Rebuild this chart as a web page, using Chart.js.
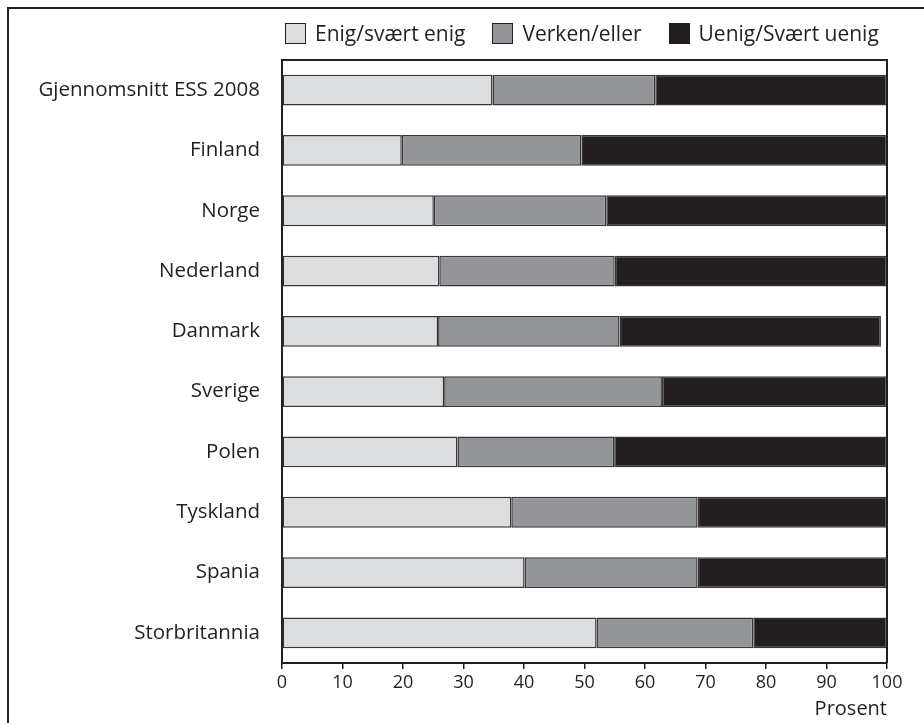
<!DOCTYPE html>
<html lang="no">
<head>
  <meta charset="UTF-8">
  <title>Enig/uenig - ESS 2008</title>
  <script src="https://cdn.jsdelivr.net/npm/chart.js@4.4.1/dist/chart.umd.min.js"></script>
  <style>
    html, body {
      margin: 0;
      padding: 0;
      background: #fff;
    }
    body {
      width: 924px;
      height: 723px;
      position: relative;
      overflow: hidden;
      font-family: "Open Sans", sans-serif;
      color: #231f20;
    }
    .frame {
      position: absolute;
      left: 7px;
      top: 7px;
      right: -5px;
      bottom: -5px;
      border-left: 2px solid #231f20;
      border-top: 2px solid #231f20;
    }
    .wrap {
      position: absolute;
      left: 0;
      top: 0;
      width: 924px;
      height: 723px;
    }
    #legend {
      position: absolute;
      left: 285px;
      top: 23px;
      display: flex;
      align-items: center;
      font-size: 21px;
      line-height: 21px;
      white-space: nowrap;
    }
    .item {
      display: flex;
      align-items: center;
      margin-right: 27px;
    }
    .box {
      width: 19px;
      height: 19px;
      border: 1px solid #231f20;
      margin-right: 9px;
    }
  </style>
</head>
<body>
  <div class="frame"></div>
  <div class="wrap"><canvas id="chart"></canvas></div>
  <div id="legend"></div>

  <script>
    const categories = ['Gjennomsnitt ESS 2008', 'Finland', 'Norge', 'Nederland', 'Danmark',
                        'Sverige', 'Polen', 'Tyskland', 'Spania', 'Storbritannia'];
    const seriesNames = ['Enig/svært enig', 'Verken/eller', 'Uenig/Svært uenig'];
    const enig   = [34.8, 19.8, 25.1, 26.0, 25.8, 26.8, 29.0, 37.9, 40.1, 52.0];
    const verken = [26.9, 29.7, 28.5, 29.0, 30.0, 36.0, 25.9, 30.8, 28.6, 25.9];
    const uenig  = [38.3, 50.5, 46.4, 45.0, 43.2, 37.2, 45.1, 31.3, 31.3, 22.1];
    const xTicks = [0, 10, 20, 30, 40, 50, 60, 70, 80, 90, 100];

    const ink = '#231f20';
    const fills = ['#dcdddf', '#939598', '#231f20'];

    // ramme rundt plottet (topp og høyre)
    const plotBox = {
      id: 'plotBox',
      afterDatasetsDraw(chart) {
        const { ctx, chartArea: a } = chart;
        ctx.save();
        ctx.strokeStyle = ink;
        ctx.lineWidth = 2;
        ctx.beginPath();
        ctx.moveTo(a.left, a.top);
        ctx.lineTo(a.right, a.top);
        ctx.lineTo(a.right, a.bottom);
        ctx.stroke();
        ctx.restore();
      }
    };

    // HTML-legende bygget fra datasettene
    const htmlLegend = {
      id: 'htmlLegend',
      afterUpdate(chart) {
        const el = document.getElementById('legend');
        el.innerHTML = '';
        chart.options.plugins.legend.labels.generateLabels(chart).forEach(item => {
          const div = document.createElement('div');
          div.className = 'item';
          const box = document.createElement('span');
          box.className = 'box';
          box.style.background = item.fillStyle;
          const txt = document.createElement('span');
          txt.textContent = item.text;
          div.appendChild(box);
          div.appendChild(txt);
          el.appendChild(div);
        });
      }
    };

    const values = [enig, verken, uenig];
    const datasets = seriesNames.map((name, i) => ({
      label: name,
      data: values[i],
      backgroundColor: fills[i],
      borderColor: '#3a3637',
      borderWidth: 1.5,
      borderSkipped: false,
      barPercentage: 0.51,
      categoryPercentage: 1
    }));

    new Chart(document.getElementById('chart'), {
      type: 'bar',
      data: { labels: categories, datasets: datasets },
      options: {
        indexAxis: 'y',
        responsive: true,
        maintainAspectRatio: false,
        animation: false,
        layout: { padding: { top: 60, right: 37, left: 0, bottom: 0 } },
        plugins: {
          legend: { display: false },
          tooltip: { enabled: false }
        },
        scales: {
          x: {
            stacked: true,
            min: 0,
            max: 100,
            afterFit: scale => { scale.height = 60; },
            afterBuildTicks: scale => { scale.ticks = xTicks.map(v => ({ value: v })); },
            grid: { drawOnChartArea: false, drawTicks: true, tickLength: 6, tickColor: ink, lineWidth: 1.5 },
            border: { display: true, color: ink, width: 2 },
            ticks: { color: ink, font: { family: 'Open Sans', size: 18 }, padding: 3, maxRotation: 0 },
            title: {
              display: true,
              text: 'Prosent',
              align: 'end',
              color: ink,
              font: { family: 'Open Sans', size: 20 },
              padding: { top: 0, bottom: 2 }
            }
          },
          y: {
            stacked: true,
            afterFit: scale => { scale.width = 282; },
            grid: { display: false },
            border: { display: true, color: ink, width: 2 },
            ticks: { color: ink, font: { family: 'Open Sans', size: 20.5 }, padding: 14 }
          }
        }
      },
      plugins: [plotBox, htmlLegend]
    });
  </script>
</body>
</html>
